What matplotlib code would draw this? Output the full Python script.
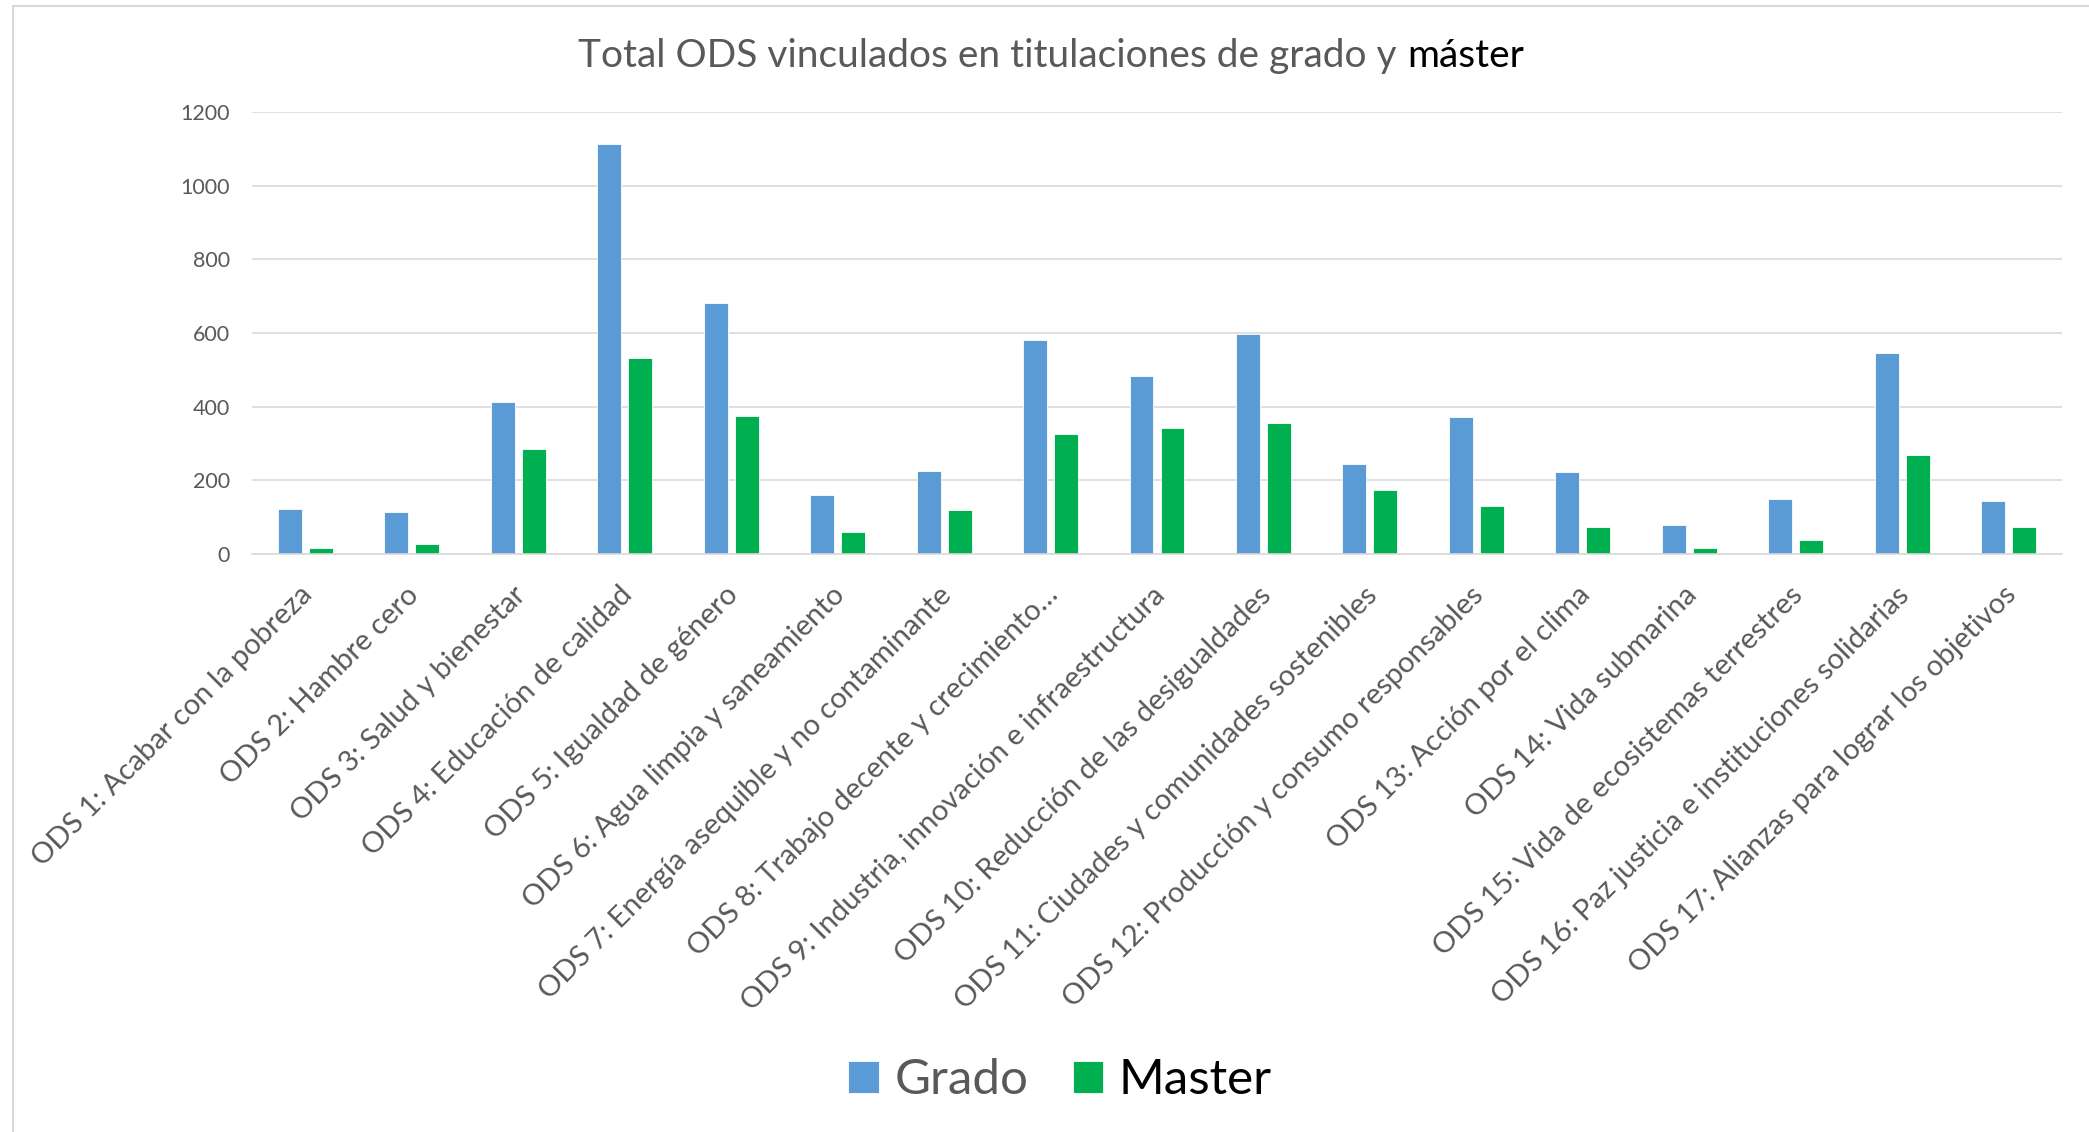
# Total ODS vinculados en titulaciones de grado y máster
# Grouped bar chart, Excel-like styling.

import numpy as np
import matplotlib
matplotlib.use("Agg")
import matplotlib.pyplot as plt
from matplotlib.lines import Line2D
from matplotlib.transforms import ScaledTranslation

# Data
categorias = [
    "ODS 1: Acabar con la pobreza",
    "ODS 2: Hambre cero",
    "ODS 3: Salud y bienestar",
    "ODS 4: Educación de calidad",
    "ODS 5: Igualdad de género",
    "ODS 6: Agua limpia y saneamiento",
    "ODS 7: Energía asequible y no contaminante",
    "ODS 8: Trabajo decente y crecimiento…",
    "ODS 9: Industria, innovación e infraestructura",
    "ODS 10: Reducción de las desigualdades",
    "ODS 11: Ciudades y comunidades sostenibles",
    "ODS 12: Producción y consumo responsables",
    "ODS 13: Acción por el clima",
    "ODS 14: Vida submarina",
    "ODS 15: Vida de ecosistemas terrestres",
    "ODS 16: Paz justicia e instituciones solidarias",
    "ODS 17: Alianzas para lograr los objetivos",
]
grado = [121, 115, 414, 1113, 682, 161, 225, 581, 484, 597, 243, 373, 223, 78, 148, 545, 145]
master = [15, 26, 286, 531, 376, 59, 120, 325, 341, 355, 174, 130, 74, 16, 38, 269, 74]
y_ticks = [0, 200, 400, 600, 800, 1000, 1200]

BLUE = "#5B9BD5"
GREEN = "#00B050"
GRID = "#D9D9D9"
TEXT = "#595959"

plt.rcParams["font.family"] = ["Lato", "DejaVu Sans"]

W, H = 2089, 1132
fig = plt.figure(figsize=(W / 100, H / 100), dpi=100)
fig.patch.set_facecolor("white")

# plot area in pixels: x 252..2062, y 112..554
ax = fig.add_axes([252 / W, 1 - 554 / H, 1810 / W, 442 / H])

x = np.arange(len(categorias))
bw = 0.225
off = 0.1455
b1 = ax.bar(x - off, grado, bw, color=BLUE, edgecolor="white", linewidth=0.6, label="Grado", zorder=3)
b2 = ax.bar(x + off, master, bw, color=GREEN, edgecolor="white", linewidth=0.6, label="Master", zorder=3)

ax.set_xlim(-0.5, len(categorias) - 0.5)
ax.set_ylim(0, 1200)
ax.set_yticks(y_ticks)
ax.set_yticklabels([str(v) for v in y_ticks])
ax.yaxis.grid(True, color=GRID, linewidth=1.2, zorder=0)
ax.set_axisbelow(True)

for side in ["top", "right", "left"]:
    ax.spines[side].set_visible(False)
ax.spines["bottom"].set_color(GRID)
ax.spines["bottom"].set_linewidth(1.2)
ax.spines["bottom"].set_zorder(4)

ax.tick_params(axis="y", length=0, pad=16, labelsize=15.5, labelcolor=TEXT)
ax.tick_params(axis="x", length=0, pad=20, labelsize=21, labelcolor=TEXT)

ax.set_xticks(x)
ax.set_xticklabels(categorias, rotation=45, ha="right", va="top", rotation_mode="anchor")
shift = ScaledTranslation(-6 / 100, 0, fig.dpi_scale_trans)
for lbl in ax.get_xticklabels():
    lbl.set_transform(lbl.get_transform() + shift)

# title, last word in black
ty = 1 - 56 / H
t1 = fig.text(0.5, ty, "Total ODS vinculados en titulaciones de grado y ",
              fontsize=28, color=TEXT, ha="right", va="center")
fig.canvas.draw()
r = fig.canvas.get_renderer()
w1 = t1.get_window_extent(r).width
t2 = fig.text(0.5, ty, "máster", fontsize=28, color="black", ha="left", va="center")
w2 = t2.get_window_extent(r).width
cx = 1051 / W
t1.set_x(cx - (w1 + w2) / 2 / W + w1 / W)
t2.set_x(cx - (w1 + w2) / 2 / W + w1 / W)

leg = fig.legend(handles=[b1, b2], labels=["Grado", "Master"], loc="center",
                 bbox_to_anchor=(1060 / W, 1 - 1080 / H), ncol=2, frameon=False,
                 fontsize=35.5, handlelength=0.62, handleheight=0.62,
                 handletextpad=0.31, columnspacing=0.9)
leg.get_texts()[0].set_color(TEXT)
leg.get_texts()[1].set_color("black")

# chart border (top and left visible)
fig.add_artist(Line2D([13 / W, 13 / W], [0, 1 - 6 / H], color=GRID, linewidth=1.5))
fig.add_artist(Line2D([13 / W, 1], [1 - 6 / H, 1 - 6 / H], color=GRID, linewidth=1.5))

fig.savefig("out.png", dpi=100, facecolor="white")
